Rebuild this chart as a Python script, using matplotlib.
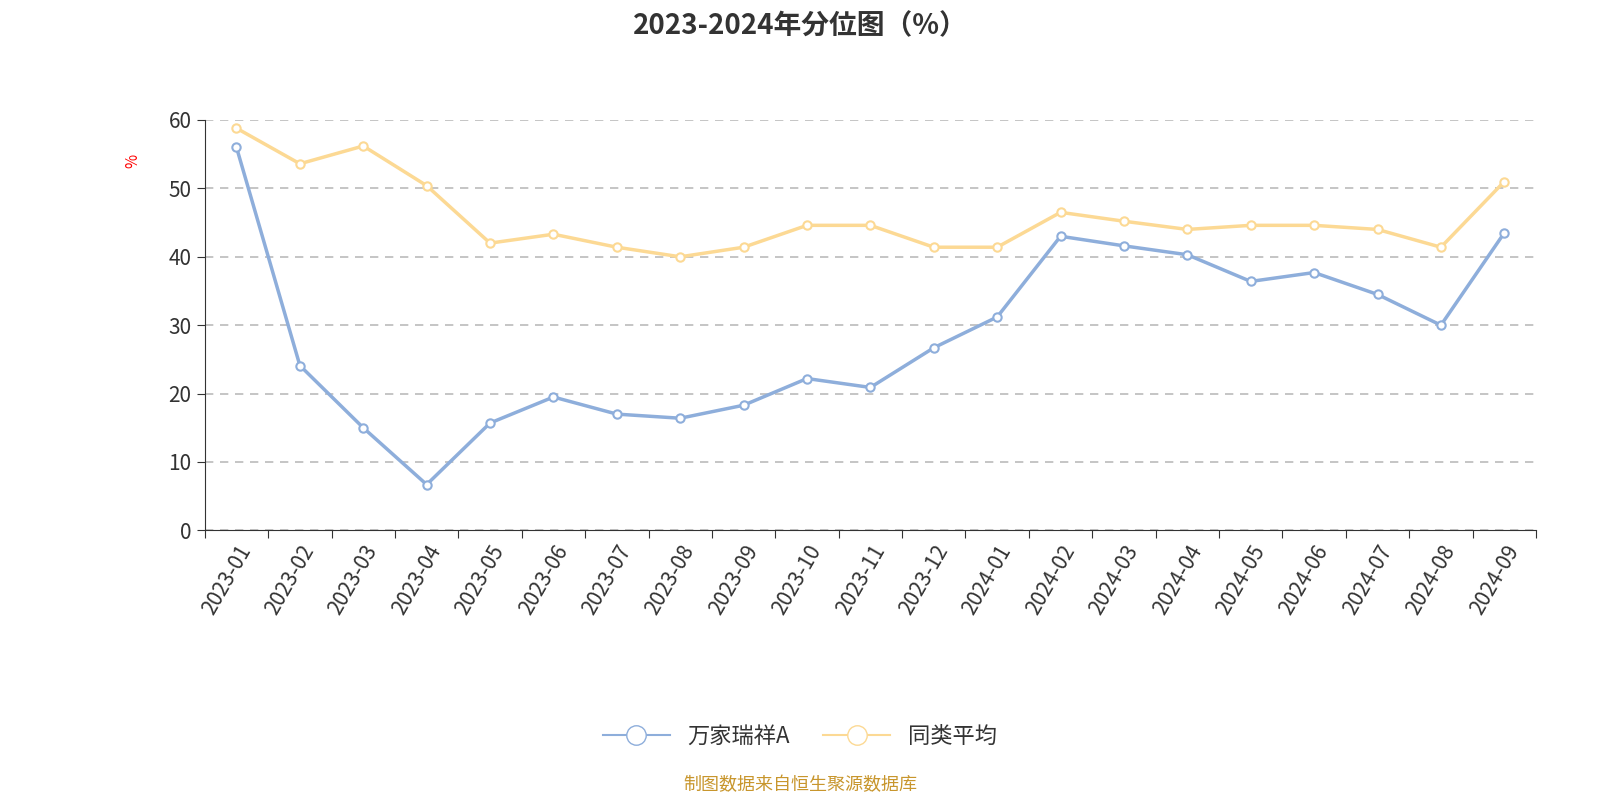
import matplotlib
matplotlib.use("Agg")
import matplotlib.pyplot as plt
from matplotlib.lines import Line2D
from matplotlib import font_manager as fm

cjk = [f.name for f in fm.fontManager.ttflist if "CJK" in f.name]
pref = [n for n in ["Noto Sans CJK SC", "Noto Sans CJK JP", "Noto Sans CJK TC", "Noto Sans CJK KR"] if n in cjk]
plt.rcParams["font.family"] = "sans-serif"
plt.rcParams["font.sans-serif"] = pref + cjk + ["DejaVu Sans"]

months = ["2023-01","2023-02","2023-03","2023-04","2023-05","2023-06","2023-07","2023-08","2023-09","2023-10","2023-11","2023-12",
          "2024-01","2024-02","2024-03","2024-04","2024-05","2024-06","2024-07","2024-08","2024-09"]
fund = [56, 24.1, 15, 6.7, 15.7, 19.5, 17, 16.4, 18.3, 22.2, 20.9, 26.7, 31.2, 43, 41.6, 40.3, 36.4, 37.7, 34.5, 30, 43.5]
peer = [58.8, 53.6, 56.2, 50.4, 42, 43.3, 41.4, 40, 41.4, 44.6, 44.6, 41.4, 41.4, 46.5, 45.2, 44, 44.6, 44.6, 44, 41.4, 51]

blue = "#8eaedb"
orange = "#fcd994"

fig = plt.figure(figsize=(16, 8), dpi=100)
ax = fig.add_axes([0.128, 0.337, 0.832, 0.513])
x = list(range(len(months)))
for vals, c in [(peer, orange), (fund, blue)]:
    ax.plot(x, vals, color=c, lw=2.5, marker="o", ms=6, mfc="white", mec=c, mew=1.5, zorder=3)

ax.set_xlim(-0.5, len(months) - 0.5)
ax.set_ylim(0, 60)
ax.set_yticks(range(0, 61, 10))
ax.set_xticks([i - 0.5 for i in range(len(months) + 1)], minor=False)
ax.set_xticklabels([])
ax.set_xticks(x, minor=True)
ax.set_xticklabels(months, minor=True, rotation=60, ha="right", rotation_mode="anchor", fontsize=15, color="#333333")
ax.tick_params(axis="x", which="minor", length=0, pad=8)
ax.tick_params(axis="x", which="major", length=6, color="#333333")
ax.tick_params(axis="y", length=6, labelsize=15, labelcolor="#333333", color="#333333")
ax.grid(axis="y", ls=(0, (5, 4)), color="#bbbbbb", lw=1.2)
for s in ["top", "right"]:
    ax.spines[s].set_visible(False)
ax.spines["left"].set_color("#333333")
ax.spines["bottom"].set_color("#333333")
ax.set_ylabel("%", color="red", fontsize=11)
ax.yaxis.set_label_coords(-0.048, 0.9)

fig.suptitle("2023-2024年分位图（%）", fontsize=20, fontweight="bold", color="#333333", y=0.985)

handles = [Line2D([0], [0], color=blue, lw=1.5, marker="o", ms=14, mfc="white", mec=blue),
           Line2D([0], [0], color=orange, lw=1.5, marker="o", ms=14, mfc="white", mec=orange)]
fig.legend(handles, ["万家瑞祥A", "同类平均"], loc="center", bbox_to_anchor=(0.5, 0.08),
           ncol=2, frameon=False, fontsize=16, handlelength=3, columnspacing=1.5, labelcolor="#333333")
fig.text(0.5, 0.013, "制图数据来自恒生聚源数据库", ha="center", fontsize=13, color="#c8962d")
fig.savefig("out.png")
